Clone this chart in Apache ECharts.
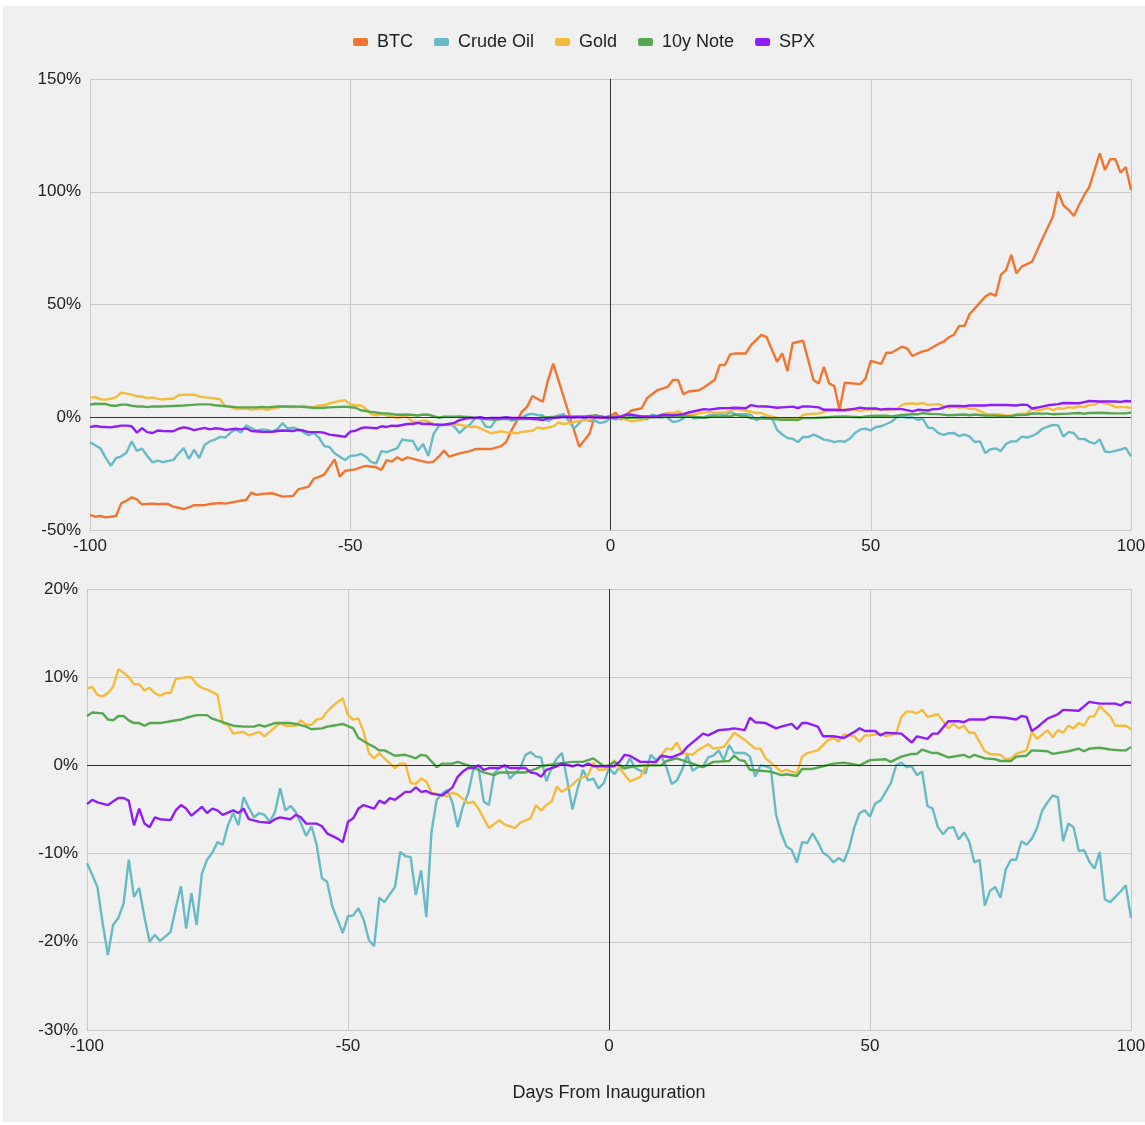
<!DOCTYPE html>
<html>
<head>
<meta charset="utf-8">
<script src="https://cdn.jsdelivr.net/npm/echarts@6/dist/echarts.min.js"></script>
<style>
  html, body { margin: 0; padding: 0; background: #ffffff; overflow: hidden; }
  #main { position: absolute; left: 3px; top: 6px; width: 1142px; height: 1116px; background: #f0f0f0; }
</style>
</head>
<body>
<div id="main"></div>
<script>
// series names + colours
const names = ["BTC", "Crude Oil", "Gold", "10y Note", "SPX"];
const colors = ["#f07530", "#68bac5", "#f4bc3b", "#55a84f", "#8e1df7"];

// tick values for the axes
const xTicks = [-100, -50, 0, 50, 100];
const topTicks = [-50, 0, 50, 100, 150];
const bottomTicks = [-30, -20, -10, 0, 10, 20];

// [day from inauguration, % change]
const btc = [[-100,-43.3],[-99,-44.1],[-98,-43.8],[-97,-44.4],[-95,-43.8],[-94,-38.2],[-93,-37],[-92,-35.5],[-91,-36.4],[-90,-38.6],
  [-89,-38.5],[-88,-38.3],[-87,-38.6],[-86,-38.4],[-85,-38.5],[-84,-39.6],[-82,-40.7],[-81,-40],[-80,-39],[-78,-39],[-77,-38.5],
  [-75,-38],[-74,-38.3],[-72,-37.4],[-71,-37],[-70,-36.7],[-69,-33.4],[-68,-34.4],[-67,-34],[-65,-33.7],[-64,-34.4],[-63,-35.2],
  [-61,-34.9],[-60,-32],[-58,-30.8],[-57,-27.2],[-56,-26.4],[-55,-25.4],[-54,-22],[-53,-18.7],[-52,-26.4],[-51,-23.7],[-49,-23.1],
  [-48,-22.2],[-47,-21.6],[-45,-22.2],[-44,-23.4],[-43,-19],[-42,-19.7],[-41,-17.8],[-40,-19],[-39,-17.8],[-37,-19],[-35,-20.1],
  [-34,-19.7],[-33,-17.5],[-32,-14.8],[-31,-17.5],[-29,-16],[-27,-15],[-26,-14.1],[-23,-14.1],[-21,-12.8],[-20,-10.8],[-19,-5.7],
  [-17,2.5],[-16,4.7],[-15,9.4],[-13,6.9],[-12,16.5],[-11,23.8],[-6,-13.1],[-4,-7.2],[-3,0.9],[-1,0],[0,0.7],[1,2],[2,-1],[4,3],
  [6,4],[7,8.4],[9,12],[11,13.5],[12,16.5],[13,16.5],[14,10.2],[15,11.4],[17,12],[18,13.3],[20,16.5],[21,23.2],[22,23.2],[23,27.9],
  [24,28.3],[26,28.3],[27,32],[29,36.5],[30,35.5],[32,24.6],[33,28.3],[34,20.6],[35,32.8],[37,34],[39,16.5],[40,15],[41,22.4],
  [42,15],[43,13.8],[44,3.2],[45,15.3],[48,14.7],[49,17.2],[50,25],[52,23.7],[53,28.6],[54,28.6],[56,31.3],[57,30.5],[58,27.2],
  [60,29.2],[61,29.8],[63,32.5],[64,33.5],[65,35.4],[66,36.7],[67,40.5],[68,40.5],[69,45.8],[70,48.3],[72,53.5],[73,54.9],[74,53.8],
  [75,63.1],[76,65.3],[77,72],[78,63.8],[79,66.8],[81,69],[82,74.2],[83,79.3],[85,89],[86,100],[87,94],[88,92],[89,89.2],[90,94],
  [91,98.5],[92,102.2],[94,117],[95,109.6],[96,114.4],[97,114.4],[98,108.5],[99,111],[100,100.8]];

const crude = [[-100,-11.1],[-99,-12.4],[-98,-13.8],[-97,-17.9],[-96,-21.5],[-95,-18.1],[-94,-17.3],[-93,-15.7],[-92,-10.7],[-91,-14.9],
  [-90,-13.9],[-89,-17.2],[-88,-20],[-87,-19.2],[-86,-19.9],[-84,-18.9],[-83,-16.2],[-82,-13.7],[-81,-18.5],[-80,-14.5],[-79,-18.1],
  [-78,-12.3],[-77,-10.7],[-76,-9.9],[-75,-8.7],[-74,-9],[-73,-6.8],[-72,-5.4],[-71,-6.8],[-70,-3.6],[-69,-4.8],[-68,-5.9],[-67,-5.4],
  [-66,-5.6],[-65,-6.4],[-64,-5.3],[-63,-2.6],[-62,-5.1],[-61,-4.6],[-60,-5.3],[-59,-6.6],[-58,-8],[-57,-6.9],[-56,-9],[-55,-12.8],
  [-54,-13.2],[-53,-16],[-52,-17.5],[-51,-19],[-50,-17.1],[-49,-17],[-48,-16.2],[-47,-17.5],[-46,-19.8],[-45,-20.5],[-44,-15],
  [-43,-15.5],[-42,-14.6],[-41,-13.8],[-40,-9.8],[-39,-10.3],[-38,-10.4],[-37,-14.7],[-36,-11.9],[-35,-17.2],[-34,-7.5],[-33,-3.9],
  [-32,-3.2],[-31,-2.8],[-30,-4.2],[-29,-7],[-28,-4.7],[-27,-3.2],[-26,-0.5],[-25,-0.3],[-24,-4.1],[-23,-4.5],[-22,-0.9],[-21,-0.3],
  [-20,0],[-19,-1.5],[-18,-0.9],[-17,-0.3],[-16,1.2],[-15,1.5],[-14,1],[-13,0.9],[-12,-1.8],[-11,-0.3],[-10,0.8],[-9,1.4],[-8,-1.7],
  [-7,-5],[-6,-2.6],[-5,-0.5],[-4,-1.7],[-3,-1.5],[-2,-2.6],[-1,-2],[0,-0.3],[1,-1],[2,-0.2],[3,-0.4],[4,0.8],[5,-0.3],[7,-0.9],
  [8,1.2],[9,0.6],[10,1.1],[11,-0.2],[12,-2.1],[13,-1.7],[14,-0.5],[15,1.2],[16,-0.6],[17,-0.2],[18,-0.1],[19,0.9],[20,1.1],[21,1.7],
  [22,0.6],[23,2.3],[24,1.4],[25,1.4],[26,1.4],[27,1],[28,-1.3],[29,0],[30,-0.1],[31,-0.3],[32,-5.6],[33,-7.7],[34,-9.2],[35,-9.6],
  [36,-11],[37,-8.7],[38,-8.8],[39,-7.7],[40,-8.7],[41,-9.9],[42,-10.3],[43,-11],[44,-10.5],[45,-10.9],[46,-9.4],[47,-7],[48,-5.4],
  [49,-5.1],[50,-5.8],[51,-4.3],[52,-4],[54,-2],[55,0],[56,0.3],[57,-0.2],[58,-0.1],[59,-1.1],[60,-0.7],[61,-4.6],[62,-4.9],[63,-7],
  [64,-7.8],[65,-7.1],[66,-7],[67,-8.4],[68,-7.6],[69,-8.6],[70,-11],[71,-10.7],[72,-15.9],[73,-14.2],[74,-13.8],[75,-15],[76,-11.8],
  [77,-10.7],[78,-10.7],[79,-8.6],[80,-9],[81,-8.3],[82,-7.1],[83,-5.1],[84,-4.2],[85,-3.4],[86,-3.6],[87,-8.6],[88,-6.6],[89,-7],
  [90,-9.7],[91,-9.6],[92,-10.9],[93,-11.7],[94,-9.8],[95,-15.2],[96,-15.5],[97,-14.9],[98,-14.3],[99,-13.6],[100,-17.3]];

const gold = [[-100,8.7],[-99,8.9],[-98,8],[-97,7.8],[-96,8.2],[-95,8.9],[-94,10.9],[-93,10.5],[-92,10],[-91,9.2],[-90,9.2],[-89,8.5],
  [-88,8.8],[-87,8.2],[-86,7.9],[-85,8.2],[-84,8.2],[-83,9.8],[-82,9.9],[-81,10],[-80,10],[-79,9.2],[-78,8.8],[-77,8.6],[-76,8.3],
  [-75,8],[-74,4.8],[-73,4.6],[-72,3.6],[-71,3.7],[-70,3.8],[-69,3.4],[-68,3.6],[-67,3.8],[-66,3.3],[-65,3.8],[-64,4.3],[-63,4.8],
  [-62,4.5],[-60,4.5],[-59,5.1],[-58,4.6],[-57,4.6],[-56,5.2],[-55,5.3],[-54,6.1],[-53,6.7],[-52,7.2],[-51,7.6],[-50,5.7],[-49,5.2],
  [-48,5.3],[-47,3.8],[-46,1.4],[-45,0.8],[-44,1.4],[-43,0.8],[-41,-0.3],[-40,0.2],[-39,0.2],[-38,-2],[-37,-2.1],[-36,-1.5],[-35,-1.8],
  [-34,-3.1],[-32,-3.4],[-31,-3.5],[-30,-3.1],[-29,-3.3],[-27,-4.3],[-26,-4.1],[-25,-4.9],[-23,-7.1],[-21,-6.2],[-20,-6.7],[-18,-7.1],
  [-17,-6.5],[-15,-6],[-14,-4.5],[-13,-5.1],[-12,-4.5],[-11,-4.1],[-10,-2.4],[-9,-3],[-7,-2.2],[-6,-1.6],[-4,-1.1],[-3,0.3],[-2,-0.5],
  [-1,-0.5],[0,-0.2],[1,0.6],[2,-0.3],[4,-1.8],[6,-1.3],[7,-0.2],[9,0.3],[11,1.9],[12,1.8],[13,2.6],[14,1.4],[16,1.2],[17,1.7],
  [19,2.4],[20,1.9],[22,2.1],[24,3.7],[25,3.3],[26,2.9],[28,1.9],[29,1.9],[30,0.8],[33,-0.7],[34,-0.5],[36,-0.9],[37,1],[38,1.4],
  [40,1.7],[42,2.9],[43,3.1],[44,2.7],[45,3.5],[47,3.3],[48,2.7],[49,3.4],[50,3.4],[52,3.6],[53,3.3],[55,3.6],[56,5.5],[57,6.1],
  [58,6.1],[59,5.9],[60,6.3],[61,5.5],[63,5.8],[65,4.2],[66,4.7],[67,4.2],[68,4.5],[69,3.7],[70,3.7],[72,1.6],[73,1.3],[75,1.2],
  [76,0.7],[77,0.8],[78,1.3],[80,1.7],[81,3.8],[82,3],[84,4],[85,3.2],[86,4],[87,3.7],[88,4.5],[89,4.2],[90,4.8],[91,4.5],[92,5.5],
  [93,5.6],[94,6.7],[96,5.6],[97,4.5],[99,4.5],[100,4.1]];

const note10y = [[-100,5.6],[-99,6],[-97,5.9],[-96,5.2],[-95,5.1],[-94,5.6],[-93,5.6],[-92,5.1],[-91,4.8],[-90,4.8],[-89,4.5],[-88,4.8],
  [-86,4.8],[-84,5],[-82,5.2],[-81,5.4],[-79,5.7],[-77,5.7],[-76,5.3],[-75,5.1],[-73,4.7],[-72,4.5],[-70,4.4],[-68,4.4],[-67,4.6],
  [-66,4.4],[-64,4.8],[-61,4.8],[-60,4.7],[-58,4.4],[-57,4.1],[-55,4.2],[-54,4.4],[-53,4.5],[-52,4.6],[-51,4.7],[-49,4.2],[-48,3.1],
  [-46,2.4],[-45,2.1],[-44,1.7],[-43,1.7],[-41,1.1],[-39,1.2],[-37,0.8],[-36,1.2],[-35,1.1],[-33,-0.2],[-32,0.2],[-30,0.2],[-29,0.4],
  [-27,0],[-26,-0.2],[-24,-0.8],[-22,-1.1],[-21,-0.8],[-19,-0.8],[-16,-0.8],[-14,-0.4],[-13,-0.1],[-10,0.2],[-7,0.4],[-5,0.4],[-3,0.8],
  [-1,-0.1],[0,0],[1,0.4],[3,-0.3],[5,-0.1],[7,0],[10,0],[11,0.5],[13,0.8],[15,0.4],[17,0],[18,-0.2],[20,0.4],[23,0.5],[24,1.1],
  [25,0.6],[26,0.5],[27,-0.5],[29,-0.6],[31,-0.7],[33,-1.1],[34,-1],[36,-1.2],[37,-0.4],[39,-0.4],[41,-0.1],[43,0.2],[45,0.3],
  [47,0.1],[48,0],[50,0.6],[53,0.7],[54,0.4],[56,1],[58,1.3],[59,1.3],[60,1.8],[62,1.4],[63,1.4],[65,0.9],[68,1.2],[69,0.9],[70,1.2],
  [72,0.8],[74,0.7],[75,0.5],[77,0.5],[78,1],[80,1.1],[81,1.7],[84,1.6],[85,1.3],[88,1.6],[90,1.9],[91,1.6],[92,1.9],[94,2],[96,1.8],
  [98,1.7],[99,1.7],[100,2.1]];

const spx = [[-100,-4.4],[-99,-3.9],[-98,-4.2],[-96,-4.5],[-95,-4.1],[-94,-3.7],[-93,-3.7],[-92,-4],[-91,-6.8],[-90,-4.9],[-89,-6.6],
  [-88,-7],[-87,-5.9],[-86,-6.1],[-84,-6.2],[-83,-5.1],[-82,-4.5],[-81,-4.9],[-80,-5.7],[-78,-4.7],[-77,-5.4],[-76,-4.9],[-75,-5.1],
  [-74,-5.6],[-72,-5.1],[-71,-5.4],[-70,-4.9],[-69,-6.1],[-67,-6.4],[-65,-6.5],[-64,-6.1],[-63,-5.9],[-61,-6.1],[-60,-5.6],[-59,-5.9],
  [-58,-6.6],[-56,-6.6],[-55,-6.9],[-54,-7.7],[-52,-8.3],[-51,-8.7],[-50,-6.4],[-49,-6],[-48,-4.9],[-47,-4.5],[-45,-4.9],[-44,-4],
  [-43,-4.3],[-42,-3.7],[-41,-3.9],[-39,-3],[-38,-3],[-37,-2.5],[-36,-3],[-35,-2.9],[-34,-3.2],[-32,-3.4],[-31,-3],[-30,-2.5],
  [-29,-1.3],[-28,-0.7],[-27,-0.3],[-26,-0.3],[-25,0],[-24,-0.5],[-23,-0.3],[-21,-0.3],[-20,0],[-19,-0.3],[-17,-0.3],[-16,-0.3],
  [-15,-0.8],[-14,-0.9],[-13,-1.3],[-12,-0.5],[-10,-0.1],[-9,0.2],[-7,-0.1],[-6,0.1],[-5,-0.1],[-4,0.2],[-3,-0.1],[-1,-0.1],[0,-0.1],
  [1,-0.1],[2,0.4],[3,1.2],[4,1.1],[6,0.4],[9,0.4],[10,1.1],[12,0.9],[14,1.4],[15,2.1],[17,3.1],[18,3.6],[19,3.4],[21,4],[23,4.1],
  [24,4.2],[26,4],[27,5.4],[28,4.9],[30,4.8],[32,4.2],[33,4.4],[35,4.7],[36,4.1],[37,4.8],[38,4.8],[40,4.4],[41,3.3],[43,3.3],
  [45,3.1],[47,3.8],[48,4.2],[49,3.9],[51,3.9],[52,3.4],[53,3.7],[56,3.6],[58,2.6],[59,3.3],[61,3],[62,3.6],[63,3.6],[65,5],[67,5],
  [68,4.9],[69,5.2],[72,5.2],[73,5.5],[76,5.4],[78,5.2],[79,5.6],[80,5.5],[81,3.9],[82,4.3],[84,5.3],[86,5.8],[87,6.3],[90,6.2],
  [91,6.7],[92,7.2],[94,7],[97,7],[98,6.8],[99,7.2],[100,7.1]];

const allData = [btc, crude, gold, note10y, spx];

const fontFam = "Liberation Sans, Arial, sans-serif";
const tickStyle = { color: "#222", fontSize: 17, fontFamily: fontFam };
const bigStyle = { color: "#222", fontSize: 18, fontFamily: fontFam };
const gridLine = { lineStyle: { color: "#c8c8c8", width: 1 } };
const zeroLines = {
  silent: true,
  symbol: "none",
  label: { show: false },
  lineStyle: { color: "#333", width: 1, type: "solid" },
  data: [{ yAxis: 0 }, { xAxis: 0 }]
};

function xAxisFor(idx, withName) {
  const ax = {
    type: "value", gridIndex: idx, min: xTicks[0], max: xTicks[xTicks.length - 1], interval: 50,
    axisLine: { show: true, onZero: false, lineStyle: { color: "#c8c8c8" } },
    axisTick: { show: false },
    splitLine: Object.assign({ show: true }, gridLine),
    axisLabel: Object.assign({ margin: 8 }, tickStyle)
  };
  if (withName) {
    ax.name = "Days From Inauguration";
    ax.nameLocation = "middle";
    ax.nameGap = 54;
    ax.nameTextStyle = bigStyle;
  }
  return ax;
}

function yAxisFor(idx, ticks) {
  return {
    type: "value", gridIndex: idx, min: ticks[0], max: ticks[ticks.length - 1], interval: ticks[1] - ticks[0],
    axisLine: { show: true, lineStyle: { color: "#c8c8c8" } },
    axisTick: { show: false },
    splitLine: Object.assign({ show: true }, gridLine),
    axisLabel: Object.assign({ margin: 9, formatter: "{value}%" }, tickStyle)
  };
}

const series = [];
// top panel: all five
for (let i = 0; i < names.length; i++) {
  series.push({
    name: names[i], type: "line", xAxisIndex: 0, yAxisIndex: 0,
    data: allData[i], showSymbol: false, smooth: false,
    lineStyle: { width: 2.4, color: colors[i] }, itemStyle: { color: colors[i] },
    markLine: i === 0 ? zeroLines : undefined
  });
}
// bottom panel: without BTC
for (let i = 1; i < names.length; i++) {
  series.push({
    name: names[i], type: "line", xAxisIndex: 1, yAxisIndex: 1,
    data: allData[i], showSymbol: false, smooth: false,
    lineStyle: { width: 2.4, color: colors[i] }, itemStyle: { color: colors[i] },
    markLine: i === 1 ? zeroLines : undefined
  });
}

const myChart = echarts.init(document.getElementById("main"));
myChart.setOption({
  animation: false,
  backgroundColor: "#f0f0f0",
  color: colors,
  legend: {
    data: names, top: 22, left: 345,
    itemWidth: 15, itemHeight: 8, itemGap: 21,
    icon: "roundRect",
    textStyle: Object.assign({ padding: [0, 0, 0, 4] }, bigStyle)
  },
  grid: [
    { left: 87, right: 14, top: 73, height: 451, containLabel: false, outerBoundsMode: "none" },
    { left: 84, right: 14, top: 583, height: 441, containLabel: false, outerBoundsMode: "none" }
  ],
  xAxis: [xAxisFor(0, false), xAxisFor(1, true)],
  yAxis: [yAxisFor(0, topTicks), yAxisFor(1, bottomTicks)],
  series: series
});
</script>
</body>
</html>
